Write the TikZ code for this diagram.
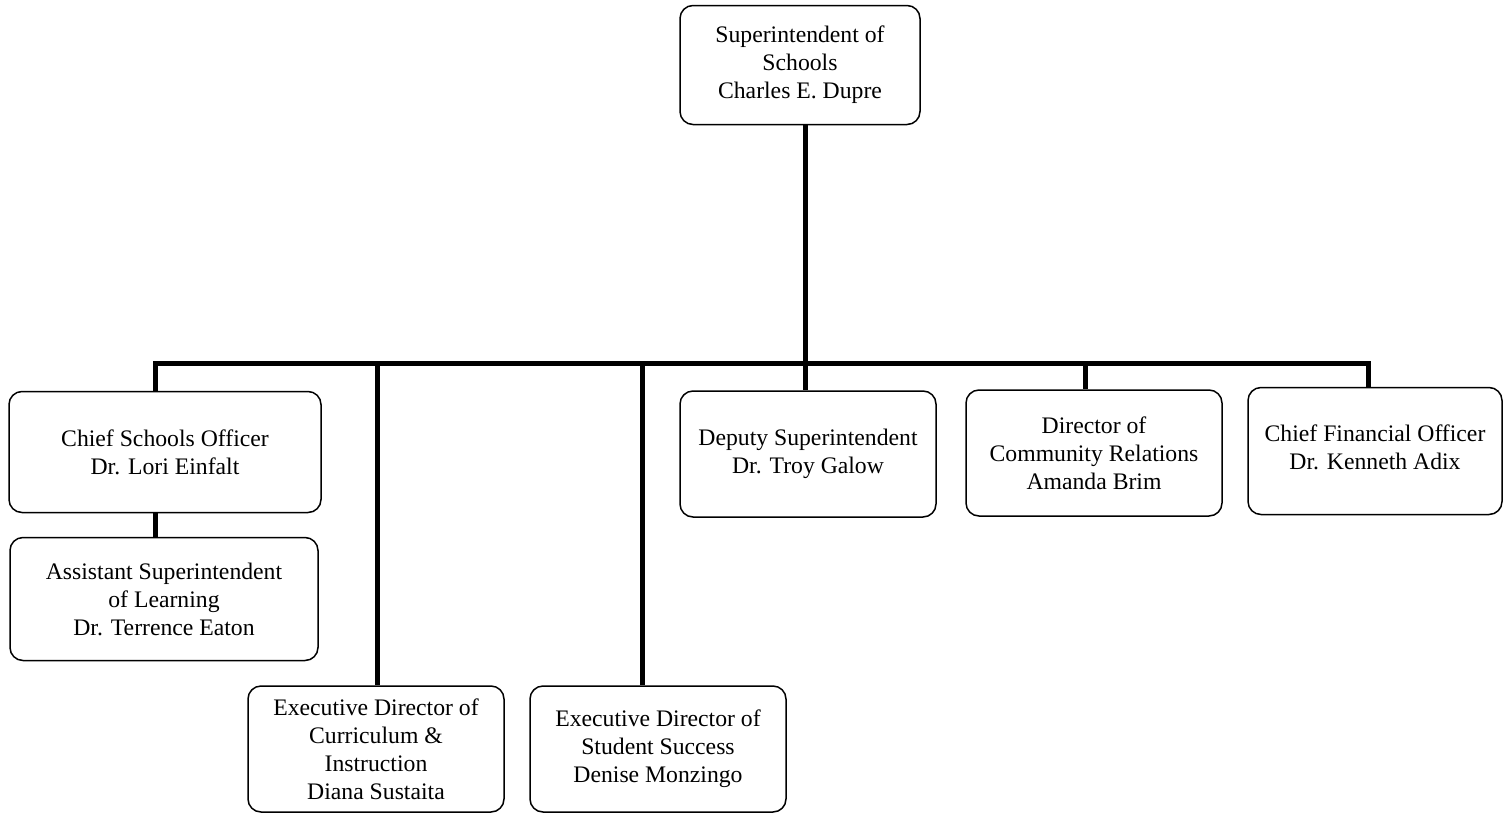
\documentclass[tikz,border=0pt]{standalone}
\usepackage{fontspec}
\setmainfont{Liberation Serif}
\begin{document}
\begin{tikzpicture}[x=1pt,y=-1pt,
  orgbox/.style={draw, line width=1.5pt, rounded corners=13pt, rectangle,
    inner sep=0pt, align=center, font=\fontsize{23.7}{28}\selectfont},
  conn/.style={line width=5pt, line join=miter}]
\useasboundingbox (0,0) rectangle (1509,814);
\node[orgbox, minimum width=240pt, minimum height=119pt] (sup) at (800,65)
  {Superintendent of\\Schools\\Charles E. Dupre};
\node[orgbox, minimum width=312pt, minimum height=121pt] (cso) at (165,452)
  {Chief Schools Officer\\Dr. Lori Einfalt};
\node[orgbox, minimum width=308pt, minimum height=123pt] (asst) at (164,599)
  {Assistant Superintendent\\of Learning\\Dr. Terrence Eaton};
\node[orgbox, minimum width=256pt, minimum height=126pt] (curr) at (376,749)
  {Executive Director of\\Curriculum \&\\Instruction\\Diana Sustaita};
\node[orgbox, minimum width=256pt, minimum height=126pt] (stud) at (658,749)
  {Executive Director of\\Student Success\\Denise Monzingo};
\node[orgbox, minimum width=256pt, minimum height=126pt] (dep) at (808,454)
  {Deputy Superintendent\\Dr. Troy Galow};
\node[orgbox, minimum width=256pt, minimum height=126pt] (com) at (1094,453)
  {Director of\\Community Relations\\Amanda Brim};
\node[orgbox, minimum width=254pt, minimum height=127pt] (cfo) at (1375,451)
  {Chief Financial Officer\\Dr. Kenneth Adix\\[-20pt]};
\coordinate (b1) at (155,363);
\coordinate (b2) at (377,363);
\coordinate (b3) at (642,363);
\coordinate (b4) at (805,363);
\coordinate (b5) at (1085,363);
\coordinate (b6) at (1368,363);
\draw[conn] (cso.north -| b1) -- (b1) -- (b6) -- (cfo.north -| b6);
\draw[conn] (sup.south -| b4) -- (dep.north -| b4);
\draw[conn] (b2) -- (curr.north -| b2);
\draw[conn] (b3) -- (stud.north -| b3);
\draw[conn] (b5) -- (com.north -| b5);
\draw[conn] (cso.south -| b1) -- (asst.north -| b1);
\end{tikzpicture}
\end{document}
